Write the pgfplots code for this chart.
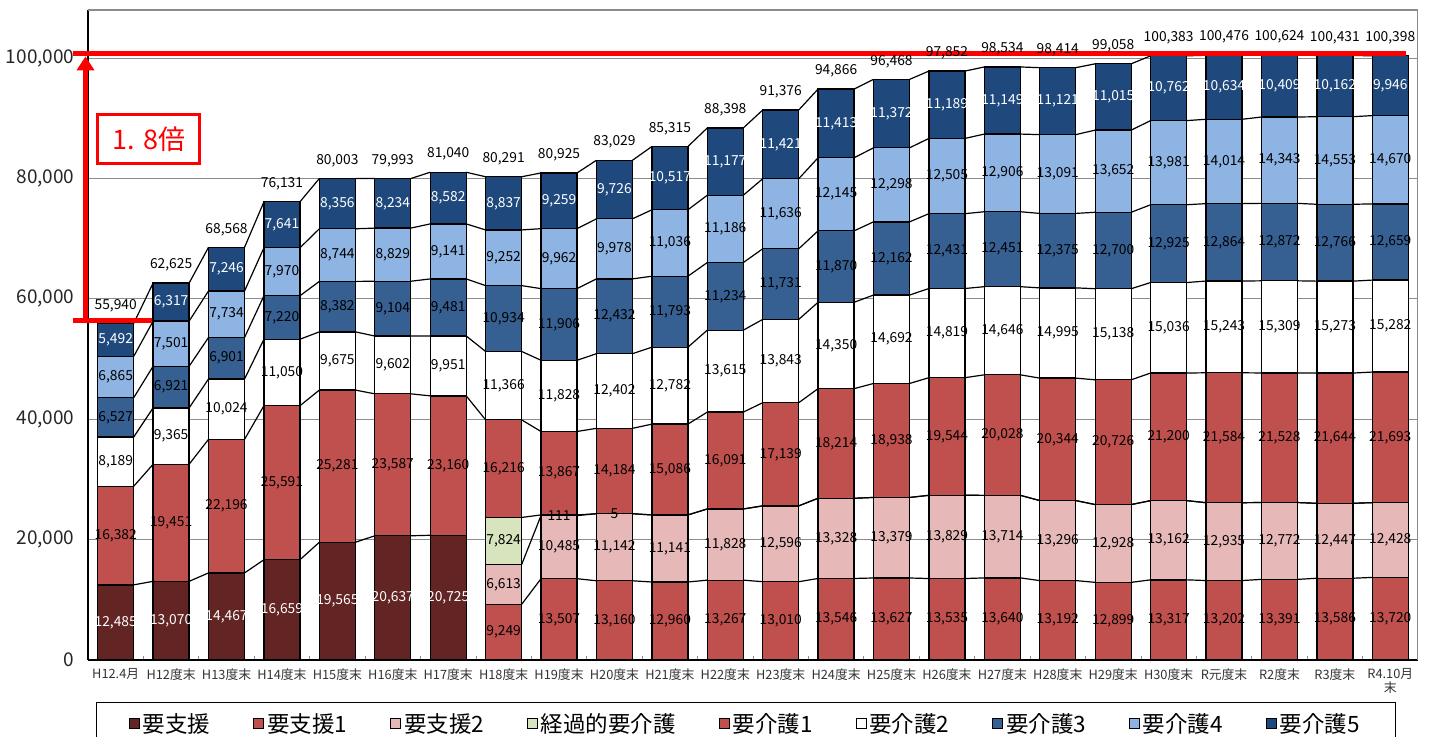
\documentclass[border=0pt]{standalone}
\usepackage{fontspec}
\usepackage{pgfplots}
\usepackage{pgfplotstable}
\pgfplotsset{compat=1.18}
\usetikzlibrary{arrows.meta}
\setmainfont{Noto Sans CJK JP}

\definecolor{shien}{RGB}{99,37,35}
\definecolor{akai}{RGB}{192,80,77}
\definecolor{pinku}{RGB}{230,185,184}
\definecolor{keika}{RGB}{215,228,189}
\definecolor{ao3}{RGB}{55,96,146}
\definecolor{ao4}{RGB}{142,180,227}
\definecolor{ao5}{RGB}{31,73,125}
\definecolor{gridgray}{RGB}{140,140,140}

% YS: 要支援, S1: 要支援1, S2: 要支援2, KK: 経過的要介護, K1..K5: 要介護1..5
\pgfplotstableread{
YS S1 S2 KK K1 K2 K3 K4 K5
12485 0 0 0 16382 8189 6527 6865 5492
13070 0 0 0 19451 9365 6921 7501 6317
14467 0 0 0 22196 10024 6901 7734 7246
16659 0 0 0 25591 11050 7220 7970 7641
19565 0 0 0 25281 9675 8382 8744 8356
20637 0 0 0 23587 9602 9104 8829 8234
20725 0 0 0 23160 9951 9481 9141 8582
0 9249 6613 7824 16216 11366 10934 9252 8837
0 13507 10485 111 13867 11828 11906 9962 9259
0 13160 11142 5 14184 12402 12432 9978 9726
0 12960 11141 0 15086 12782 11793 11036 10517
0 13267 11828 0 16091 13615 11234 11186 11177
0 13010 12596 0 17139 13843 11731 11636 11421
0 13546 13328 0 18214 14350 11870 12145 11413
0 13627 13379 0 18938 14692 12162 12298 11372
0 13535 13829 0 19544 14819 12431 12505 11189
0 13640 13714 0 20028 14646 12451 12906 11149
0 13192 13296 0 20344 14995 12375 13091 11121
0 12899 12928 0 20726 15138 12700 13652 11015
0 13317 13162 0 21200 15036 12925 13981 10762
0 13202 12935 0 21584 15243 12864 14014 10634
0 13391 12772 0 21528 15309 12872 14343 10409
0 13586 12447 0 21644 15273 12766 14553 10162
0 13720 12428 0 21693 15282 12659 14670 9946
}\kaigo

% running totals (c0..c8) and their change to the next year (d0..d8)
\pgfkeys{/pgf/fpu=true,/pgf/fpu/output format=fixed}
\pgfplotstablecreatecol[create col/expr={\thisrow{YS}}]{c0}{\kaigo}
\pgfplotstablecreatecol[create col/expr={\thisrow{c0}+\thisrow{S1}}]{c1}{\kaigo}
\pgfplotstablecreatecol[create col/expr={\thisrow{c1}+\thisrow{S2}}]{c2}{\kaigo}
\pgfplotstablecreatecol[create col/expr={\thisrow{c2}+\thisrow{KK}}]{c3}{\kaigo}
\pgfplotstablecreatecol[create col/expr={\thisrow{c3}+\thisrow{K1}}]{c4}{\kaigo}
\pgfplotstablecreatecol[create col/expr={\thisrow{c4}+\thisrow{K2}}]{c5}{\kaigo}
\pgfplotstablecreatecol[create col/expr={\thisrow{c5}+\thisrow{K3}}]{c6}{\kaigo}
\pgfplotstablecreatecol[create col/expr={\thisrow{c6}+\thisrow{K4}}]{c7}{\kaigo}
\pgfplotstablecreatecol[create col/expr={\thisrow{c7}+\thisrow{K5}}]{c8}{\kaigo}
\pgfplotstablecreatecol[create col/expr={\nextrow{c0}-\thisrow{c0}}]{d0}{\kaigo}
\pgfplotstablecreatecol[create col/expr={\nextrow{c1}-\thisrow{c1}}]{d1}{\kaigo}
\pgfplotstablecreatecol[create col/expr={\nextrow{c2}-\thisrow{c2}}]{d2}{\kaigo}
\pgfplotstablecreatecol[create col/expr={\nextrow{c3}-\thisrow{c3}}]{d3}{\kaigo}
\pgfplotstablecreatecol[create col/expr={\nextrow{c4}-\thisrow{c4}}]{d4}{\kaigo}
\pgfplotstablecreatecol[create col/expr={\nextrow{c5}-\thisrow{c5}}]{d5}{\kaigo}
\pgfplotstablecreatecol[create col/expr={\nextrow{c6}-\thisrow{c6}}]{d6}{\kaigo}
\pgfplotstablecreatecol[create col/expr={\nextrow{c7}-\thisrow{c7}}]{d7}{\kaigo}
\pgfplotstablecreatecol[create col/expr={\nextrow{c8}-\thisrow{c8}}]{d8}{\kaigo}
\pgfkeys{/pgf/fpu=false}

\pgfkeys{/pgf/number format/.cd, fixed, precision=0, 1000 sep={,}, assume math mode=true}

\pgfplotsset{
  frame/.style={
    at={(88pt,76pt)}, anchor=south west,
    scale only axis, width=1330pt, height=650pt,
    xmin=-0.5, xmax=23.5, ymin=0, ymax=108000,
  },
  sq legend/.style={legend image code/.code={%
      \draw[##1, line width=0.8pt] (0pt,-5pt) rectangle (10pt,5pt);}},
  seg/.style={fill=#1, draw=black, line width=1.3pt, sq legend},
  link/.style={black, line width=1.2pt, mark=none,
    quiver={u=0.35, v=\thisrow{#1}}},
  seglab/.style={draw=none, mark=none, nodes near coords,
    point meta=explicit,
    nodes near coords align={center},
    every node near coord/.append style={font=\fontsize{13.8}{15}\selectfont,
      text=#1, inner sep=0pt}},
}

\begin{document}
\begin{tikzpicture}
\useasboundingbox (0,0) rectangle (1429pt,736pt);

% stacked bars
\begin{axis}[frame,
  ybar stacked, bar width=36pt,
  axis x line*=bottom, axis y line*=left,
  axis line style={black, line width=1.2pt},
  ytick={0,20000,40000,60000,80000,100000},
  scaled y ticks=false,
  ymajorgrids, major grid style={gridgray, line width=0.9pt},
  xtick={0,...,23},
  xticklabels={H12.4月,H12度末,H13度末,H14度末,H15度末,H16度末,H17度末,H18度末,
    H19度末,H20度末,H21度末,H22度末,H23度末,H24度末,H25度末,H26度末,H27度末,
    H28度末,H29度末,H30度末,R元度末,R2度末,R3度末,{R4.10月\\末}},
  xticklabel style={font=\fontsize{12.8}{14}\selectfont, align=center, text=black!80,
    yshift=-5pt},
  yticklabel style={font=\fontsize{19}{21}\selectfont, xshift=-10pt, text=black!85},
  major tick length=0pt,
  minor xtick={0.5,1.5,...,22.5}, minor tick length=4pt, tick align=inside,
  minor tick style={gridgray, line width=0.8pt},
  legend columns=-1,
  legend cell align=left,
  legend style={at={(0.4947,0)}, anchor=north, yshift=-42pt,
    draw=black, line width=0.8pt, fill=white,
    font=\fontsize{22.5}{24}\selectfont,
    inner xsep=33pt, inner ysep=8pt,
    nodes={inner xsep=3pt, inner ysep=3pt},
    /tikz/every even column/.append style={column sep=40pt}},
]
\addplot[seg=shien] table[x expr=\coordindex, y=YS] {\kaigo};
\addlegendentry{要支援}
\addplot[seg=akai] table[x expr=\coordindex, y=S1] {\kaigo};
\addlegendentry{要支援1}
\addplot[seg=pinku] table[x expr=\coordindex, y=S2] {\kaigo};
\addlegendentry{要支援2}
\addplot[seg=keika] table[x expr=\coordindex, y=KK] {\kaigo};
\addlegendentry{経過的要介護}
\addplot[seg=akai] table[x expr=\coordindex, y=K1] {\kaigo};
\addlegendentry{要介護1}
\addplot[seg=white] table[x expr=\coordindex, y=K2] {\kaigo};
\addlegendentry{要介護2}
\addplot[seg=ao3] table[x expr=\coordindex, y=K3] {\kaigo};
\addlegendentry{要介護3}
\addplot[seg=ao4] table[x expr=\coordindex, y=K4] {\kaigo};
\addlegendentry{要介護4}
\addplot[seg=ao5] table[x expr=\coordindex, y=K5] {\kaigo};
\addlegendentry{要介護5}
\draw[gridgray, line width=1.2pt] (rel axis cs:0,1) -- (rel axis cs:1,1) -- (rel axis cs:1,0);
\end{axis}

% series lines, value labels and the growth marker
\begin{axis}[frame, hide axis, clip=false]
\addplot[link=d0, restrict x to domain=0:5.5] table[x expr=\coordindex+0.325, y=c0] {\kaigo};
\addplot[link=d1, restrict x to domain=7:22.5] table[x expr=\coordindex+0.325, y=c1] {\kaigo};
\addplot[link=d2, restrict x to domain=7:22.5] table[x expr=\coordindex+0.325, y=c2] {\kaigo};
\addplot[link=d3, restrict x to domain=7:22.5] table[x expr=\coordindex+0.325, y=c3] {\kaigo};
\addplot[link=d4, restrict x to domain=0:22.5] table[x expr=\coordindex+0.325, y=c4] {\kaigo};
\addplot[link=d5, restrict x to domain=0:22.5] table[x expr=\coordindex+0.325, y=c5] {\kaigo};
\addplot[link=d6, restrict x to domain=0:22.5] table[x expr=\coordindex+0.325, y=c6] {\kaigo};
\addplot[link=d7, restrict x to domain=0:22.5] table[x expr=\coordindex+0.325, y=c7] {\kaigo};
\addplot[link=d8, restrict x to domain=0:22.5] table[x expr=\coordindex+0.325, y=c8] {\kaigo};

\addplot[seglab=white, skip coords between index={7}{24}]
  table[x expr=\coordindex, y expr=\thisrow{c0}-0.5*\thisrow{YS}, meta=YS] {\kaigo};
\addplot[seglab=black, skip coords between index={0}{7}]
  table[x expr=\coordindex, y expr=\thisrow{c1}-0.5*\thisrow{S1}, meta=S1] {\kaigo};
\addplot[seglab=black, skip coords between index={0}{7}]
  table[x expr=\coordindex, y expr=\thisrow{c2}-0.5*\thisrow{S2}, meta=S2] {\kaigo};
\addplot[seglab=black, skip coords between index={0}{7},
  skip coords between index={10}{24}]
  table[x expr=\coordindex, y expr=\thisrow{c3}-0.5*\thisrow{KK}, meta=KK] {\kaigo};
\addplot[seglab=black]
  table[x expr=\coordindex, y expr=\thisrow{c4}-0.5*\thisrow{K1}, meta=K1] {\kaigo};
\addplot[seglab=black]
  table[x expr=\coordindex, y expr=\thisrow{c5}-0.5*\thisrow{K2}, meta=K2] {\kaigo};
\addplot[seglab=black]
  table[x expr=\coordindex, y expr=\thisrow{c6}-0.5*\thisrow{K3}, meta=K3] {\kaigo};
\addplot[seglab=black]
  table[x expr=\coordindex, y expr=\thisrow{c7}-0.5*\thisrow{K4}, meta=K4] {\kaigo};
\addplot[seglab=white]
  table[x expr=\coordindex, y expr=\thisrow{c8}-0.5*\thisrow{K5}, meta=K5] {\kaigo};
% totals above the bars
\addplot[seglab=black, every node near coord/.append style={yshift=18pt}]
  table[x expr=\coordindex, y=c8, meta=c8] {\kaigo};

\draw[red, line width=5pt] (axis cs:-0.771,100700) -- (axis cs:23.283,100700);
\draw[red, line width=5pt] (axis cs:-0.771,56400) -- (axis cs:0.649,56400);
\draw[red, line width=5pt, -{Triangle[length=14pt,width=17pt]}]
  (axis cs:-0.545,56400) -- (axis cs:-0.545,100300);
\node[draw=red, line width=3pt, fill=white, minimum width=102pt, minimum height=49pt,
  text=red, font=\fontsize{27}{29}\selectfont, inner sep=0pt]
  at (axis cs:0.6007,86507) {1. 8倍};
\end{axis}
\end{tikzpicture}
\end{document}
